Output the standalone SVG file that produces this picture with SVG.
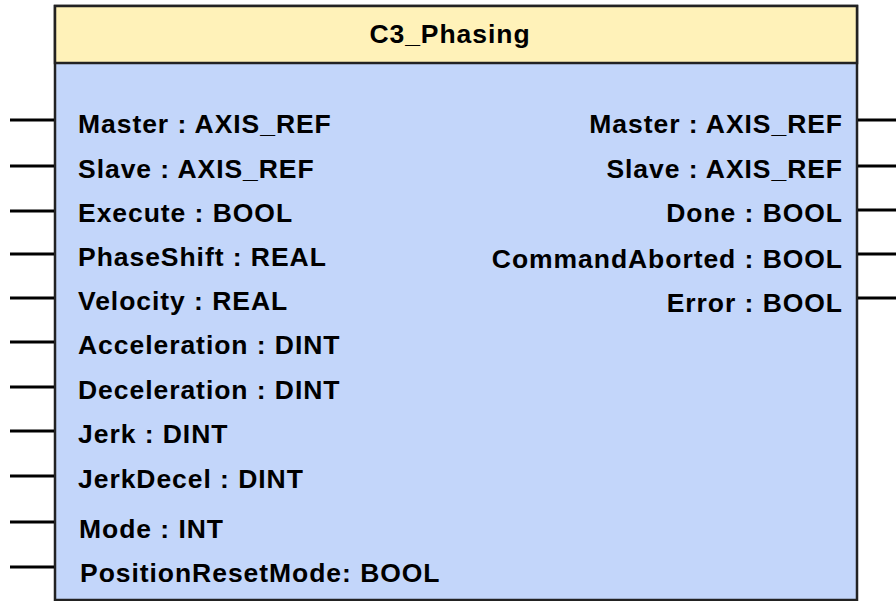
<svg xmlns="http://www.w3.org/2000/svg" width="896" height="601" viewBox="0 0 896 601">
<style>
.t{font-family:"Liberation Sans",Arial,sans-serif;font-size:26.5px;font-weight:bold;letter-spacing:0.95px;fill:#000;}
.r{text-anchor:end;}
.pin{stroke:#000;stroke-width:3;}
</style>
<rect width="896" height="601" fill="#fff"/>
<g id="block">
<rect x="55" y="6" width="802" height="594" fill="#c3d6fa" stroke="#222" stroke-width="2.5"/>
<rect x="55" y="6" width="802" height="57" fill="#fff2b9" stroke="#222" stroke-width="2.5"/>
<text class="t" x="450" y="43" text-anchor="middle">C3_Phasing</text>
</g>
<g id="connectors">
<line class="pin" x1="10" y1="120" x2="54" y2="120"/>
<line class="pin" x1="10" y1="166" x2="54" y2="166"/>
<line class="pin" x1="10" y1="211" x2="54" y2="211"/>
<line class="pin" x1="10" y1="254" x2="54" y2="254"/>
<line class="pin" x1="10" y1="298" x2="54" y2="298"/>
<line class="pin" x1="10" y1="342" x2="54" y2="342"/>
<line class="pin" x1="10" y1="387" x2="54" y2="387"/>
<line class="pin" x1="10" y1="431" x2="54" y2="431"/>
<line class="pin" x1="10" y1="476" x2="54" y2="476"/>
<line class="pin" x1="10" y1="522" x2="54" y2="522"/>
<line class="pin" x1="10" y1="567" x2="54" y2="567"/>
<line class="pin" x1="858" y1="120" x2="896" y2="120"/>
<line class="pin" x1="858" y1="166" x2="896" y2="166"/>
<line class="pin" x1="858" y1="210" x2="896" y2="210"/>
<line class="pin" x1="858" y1="254" x2="896" y2="254"/>
<line class="pin" x1="858" y1="298" x2="896" y2="298"/>
</g>
<g id="inputs">
<text class="t" x="78" y="133">Master : AXIS_REF</text>
<text class="t" x="78" y="178">Slave : AXIS_REF</text>
<text class="t" x="78" y="222">Execute : BOOL</text>
<text class="t" x="78" y="266">PhaseShift : REAL</text>
<text class="t" x="78" y="310">Velocity : REAL</text>
<text class="t" x="78" y="354">Acceleration : DINT</text>
<text class="t" x="78" y="399">Deceleration : DINT</text>
<text class="t" x="78" y="443">Jerk : DINT</text>
<text class="t" x="78" y="488">JerkDecel : DINT</text>
<text class="t" x="79" y="538">Mode : INT</text>
<text class="t" x="80" y="582">PositionResetMode: BOOL</text>
</g>
<g id="outputs">
<text class="t r" x="843" y="133">Master : AXIS_REF</text>
<text class="t r" x="843" y="178">Slave : AXIS_REF</text>
<text class="t r" x="843" y="222">Done : BOOL</text>
<text class="t r" x="843" y="268">CommandAborted : BOOL</text>
<text class="t r" x="843" y="312">Error : BOOL</text>
</g>
</svg>
